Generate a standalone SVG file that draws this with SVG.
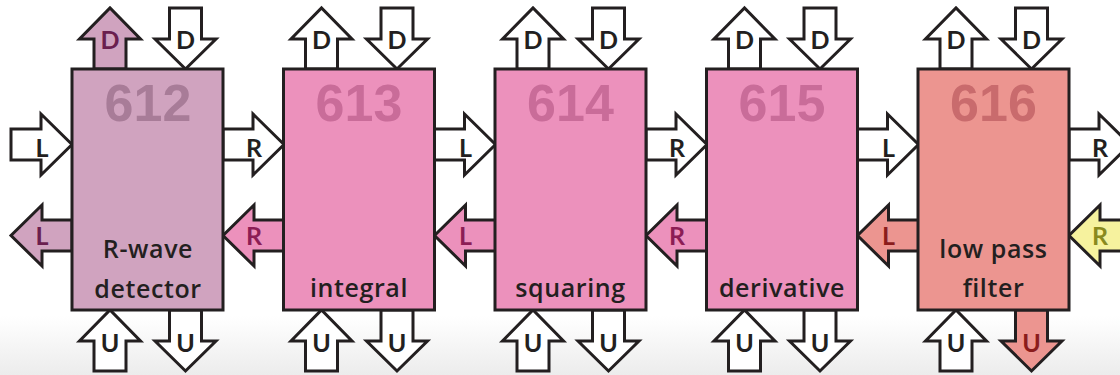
<svg xmlns="http://www.w3.org/2000/svg" xmlns:xlink="http://www.w3.org/1999/xlink" width="1120" height="375" viewBox="0 0 1120 375">
<defs>
<linearGradient id="bg" x1="0" y1="0" x2="0" y2="1">
<stop offset="0" stop-color="#ffffff"/>
<stop offset="1" stop-color="#ececec"/>
</linearGradient>
<path id="arrR" d="M0,-15.5 H30 V-30.5 L61,0 L30,30.5 V15.5 H0 Z"/>
<path id="arrL" d="M61,-15.5 H31 V-30.5 L0,0 L31,30.5 V15.5 H61 Z"/>
<path id="arrU" d="M-16,61 V31 H-30.5 L0,0 L30.5,31 H16 V61 Z"/>
<path id="arrD" d="M-16,0 V31 H-30.5 L0,61 L30.5,31 H16 V0 Z"/>
</defs>
<style>
.a{stroke:#231f20;stroke-width:3;stroke-linejoin:miter}
.w{fill:#ffffff}
.mv{fill:#d0a3bf}
.pk{fill:#ec91bc}
.sa{fill:#ec9590}
.ye{fill:#f6f29e}
.box{stroke:#231f20;stroke-width:3}
.num{font-family:"Liberation Sans",Arial,sans-serif;font-weight:bold;font-size:52px;text-anchor:middle}
.lbl{font-family:"Open Sans",Lato,sans-serif;font-size:25px;font-weight:600;fill:#231f20;text-anchor:middle;letter-spacing:0.6px}
.al{font-family:Lato,"Open Sans",sans-serif;font-weight:bold;font-size:25px;text-anchor:middle;fill:#231f20}
.tmv{fill:#6a1f4f}
.tpk{fill:#8c1d55}
.tsa{fill:#8b1c1c}
.tye{fill:#8a8a1e}
</style>
<rect x="0" y="0" width="1120" height="375" fill="#ffffff"/>
<rect x="0" y="316" width="1120" height="59" fill="url(#bg)"/>

<g id="connectors">
<!-- top horizontal (rightward) arrows -->
<use xlink:href="#arrR" class="a w" x="11" y="144.5"/>
<text class="al" x="42" y="157">L</text>
<use xlink:href="#arrR" class="a w" x="223" y="144.5"/>
<text class="al" x="254" y="157">R</text>
<use xlink:href="#arrR" class="a w" x="434.5" y="144.5"/>
<text class="al" x="465.5" y="157">L</text>
<use xlink:href="#arrR" class="a w" x="646" y="144.5"/>
<text class="al" x="677" y="157">R</text>
<use xlink:href="#arrR" class="a w" x="857.5" y="144.5"/>
<text class="al" x="888.5" y="157">L</text>
<use xlink:href="#arrR" class="a w" x="1069" y="144.5"/>
<text class="al" x="1100" y="157">R</text>

<!-- bottom horizontal (leftward) arrows -->
<use xlink:href="#arrL" class="a mv" x="11" y="235.5"/>
<text class="al tmv" x="42" y="245">L</text>
<use xlink:href="#arrL" class="a pk" x="223" y="235.5"/>
<text class="al tpk" x="254" y="245">R</text>
<use xlink:href="#arrL" class="a pk" x="434.5" y="235.5"/>
<text class="al tpk" x="465.5" y="245">L</text>
<use xlink:href="#arrL" class="a pk" x="646" y="235.5"/>
<text class="al tpk" x="677" y="245">R</text>
<use xlink:href="#arrL" class="a sa" x="857.5" y="235.5"/>
<text class="al tsa" x="888.5" y="245">L</text>
<use xlink:href="#arrL" class="a ye" x="1069" y="235.5"/>
<text class="al tye" x="1100" y="245">R</text>

<!-- top vertical arrows -->
<use xlink:href="#arrU" class="a mv" x="110" y="8"/>
<text class="al tmv" x="110" y="49">D</text>
<use xlink:href="#arrD" class="a w" x="185.5" y="8"/>
<text class="al" x="185.5" y="49">D</text>
<use xlink:href="#arrU" class="a w" x="321.5" y="8"/>
<text class="al" x="321.5" y="49">D</text>
<use xlink:href="#arrD" class="a w" x="397" y="8"/>
<text class="al" x="397" y="49">D</text>
<use xlink:href="#arrU" class="a w" x="533" y="8"/>
<text class="al" x="533" y="49">D</text>
<use xlink:href="#arrD" class="a w" x="608.5" y="8"/>
<text class="al" x="608.5" y="49">D</text>
<use xlink:href="#arrU" class="a w" x="744.5" y="8"/>
<text class="al" x="744.5" y="49">D</text>
<use xlink:href="#arrD" class="a w" x="820" y="8"/>
<text class="al" x="820" y="49">D</text>
<use xlink:href="#arrU" class="a w" x="956" y="8"/>
<text class="al" x="956" y="49">D</text>
<use xlink:href="#arrD" class="a w" x="1031.5" y="8"/>
<text class="al" x="1031.5" y="49">D</text>

<!-- bottom vertical arrows -->
<use xlink:href="#arrU" class="a w" x="110" y="310"/>
<text class="al" x="110" y="352">U</text>
<use xlink:href="#arrD" class="a w" x="185.5" y="310"/>
<text class="al" x="185.5" y="352">U</text>
<use xlink:href="#arrU" class="a w" x="321.5" y="310"/>
<text class="al" x="321.5" y="352">U</text>
<use xlink:href="#arrD" class="a w" x="397" y="310"/>
<text class="al" x="397" y="352">U</text>
<use xlink:href="#arrU" class="a w" x="533" y="310"/>
<text class="al" x="533" y="352">U</text>
<use xlink:href="#arrD" class="a w" x="608.5" y="310"/>
<text class="al" x="608.5" y="352">U</text>
<use xlink:href="#arrU" class="a w" x="744.5" y="310"/>
<text class="al" x="744.5" y="352">U</text>
<use xlink:href="#arrD" class="a w" x="820" y="310"/>
<text class="al" x="820" y="352">U</text>
<use xlink:href="#arrU" class="a w" x="956" y="310"/>
<text class="al" x="956" y="352">U</text>
<use xlink:href="#arrD" class="a sa" x="1031.5" y="310"/>
<text class="al tsa" x="1031.5" y="352">U</text>
</g>

<g id="node612">
<rect class="box mv" x="72" y="69" width="151" height="241"/>
<text class="num" x="148" y="121" fill="#a87c98">612</text>
<text class="lbl" x="148" y="258">R-wave</text>
<text class="lbl" x="148" y="298">detector</text>
</g>
<g id="node613">
<rect class="box pk" x="283.5" y="69" width="151" height="241"/>
<text class="num" x="359" y="121" fill="#c96c99">613</text>
<text class="lbl" x="359" y="297">integral</text>
</g>
<g id="node614">
<rect class="box pk" x="495" y="69" width="151" height="241"/>
<text class="num" x="570.5" y="121" fill="#c96c99">614</text>
<text class="lbl" x="570.5" y="297">squaring</text>
</g>
<g id="node615">
<rect class="box pk" x="706.5" y="69" width="151" height="241"/>
<text class="num" x="782" y="121" fill="#c96c99">615</text>
<text class="lbl" x="782" y="297">derivative</text>
</g>
<g id="node616">
<rect class="box sa" x="918" y="69" width="151" height="241"/>
<text class="num" x="993.5" y="121" fill="#c96b6d">616</text>
<text class="lbl" x="993.5" y="258">low pass</text>
<text class="lbl" x="993.5" y="297">filter</text>
</g>
</svg>
